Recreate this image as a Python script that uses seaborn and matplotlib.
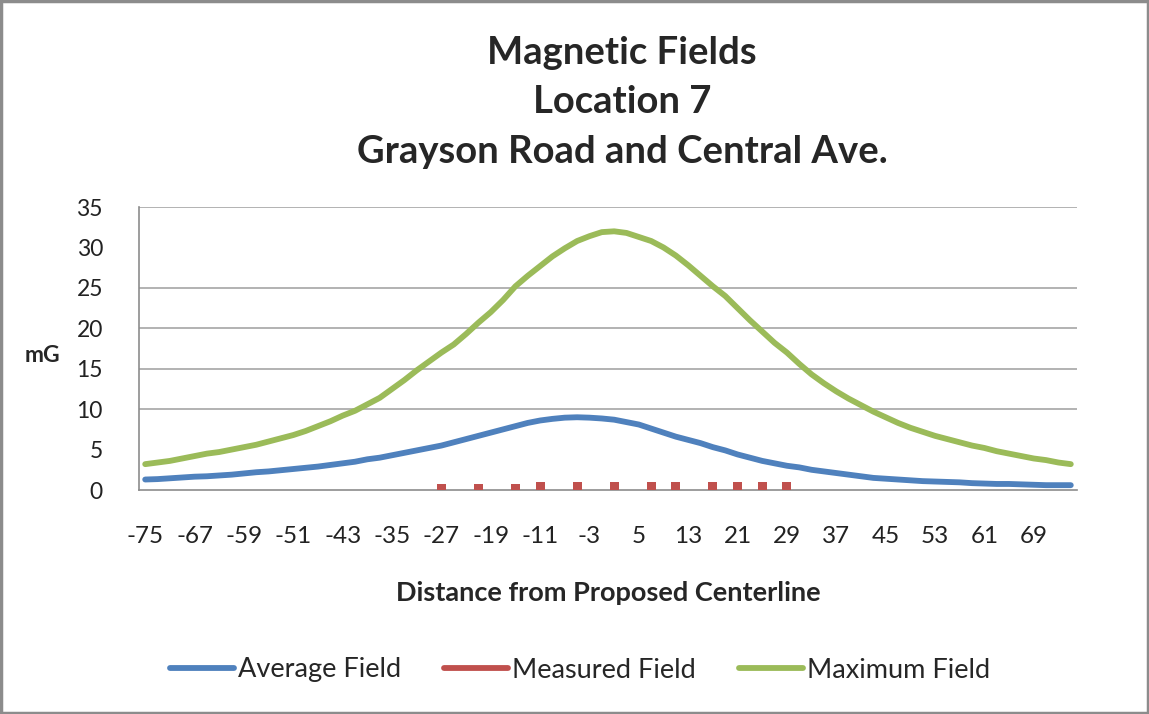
import numpy as np
import pandas as pd
import seaborn as sns
import matplotlib.pyplot as plt
from matplotlib.lines import Line2D
from matplotlib.patches import Rectangle

# distances from the centerline (one category every 2 ft)
distance = list(range(-75, 76, 2))

average_field = [1.3, 1.35, 1.45, 1.55, 1.65, 1.7, 1.8, 1.9, 2.05, 2.2,
                 2.3, 2.45, 2.6, 2.75, 2.9, 3.1, 3.3, 3.5, 3.8, 4.0,
                 4.3, 4.6, 4.9, 5.2, 5.5, 5.9, 6.3, 6.7, 7.1, 7.5,
                 7.9, 8.3, 8.6, 8.8, 8.95, 9.0, 8.95, 8.85, 8.7, 8.4,
                 8.1, 7.6, 7.1, 6.6, 6.2, 5.8, 5.3, 4.9, 4.4, 4.0,
                 3.6, 3.3, 3.0, 2.8, 2.5, 2.3, 2.1, 1.9, 1.7, 1.5,
                 1.4, 1.3, 1.2, 1.1, 1.05, 1.0, 0.95, 0.85, 0.8, 0.75,
                 0.75, 0.7, 0.65, 0.6, 0.6, 0.6]

maximum_field = [3.2, 3.4, 3.6, 3.9, 4.2, 4.5, 4.7, 5.0, 5.3, 5.6,
                 6.0, 6.4, 6.8, 7.3, 7.9, 8.5, 9.2, 9.8, 10.6, 11.4,
                 12.5, 13.6, 14.8, 15.9, 17.0, 18.0, 19.3, 20.7, 22.0, 23.5,
                 25.2, 26.5, 27.7, 28.9, 29.9, 30.8, 31.4, 31.9, 32.0, 31.8,
                 31.3, 30.8, 30.0, 29.0, 27.8, 26.5, 25.2, 24.0, 22.5, 21.0,
                 19.6, 18.2, 17.0, 15.6, 14.3, 13.2, 12.2, 11.3, 10.5, 9.7,
                 9.0, 8.3, 7.7, 7.2, 6.7, 6.3, 5.9, 5.5, 5.2, 4.8,
                 4.5, 4.2, 3.9, 3.7, 3.4, 3.2]

measured_distance = [-27, -21, -15, -11, -5, 1, 7, 11, 17, 21, 25, 29]
measured_field = [0.2, 0.2, 0.2, 0.45, 0.45, 0.45, 0.45, 0.45, 0.45, 0.45, 0.45, 0.45]

tick_labels = list(range(-75, 70, 8))
y_ticks = [0, 5, 10, 15, 20, 25, 30, 35]
grid_levels = [10, 15, 20, 25, 35]

blue = '#4F81BD'
red = '#C0504D'
green = '#9BBB59'
gray = '#8C8C8C'

df = pd.DataFrame({'distance': distance, 'Average Field': average_field,
                   'Maximum Field': maximum_field})
meas = pd.DataFrame({'distance': measured_distance, 'Measured Field': measured_field})

sns.set_theme(style='white')
plt.rcParams['font.family'] = ['Lato', 'DejaVu Sans']

fig, ax = plt.subplots(figsize=(11.49, 7.14), dpi=100)
fig.subplots_adjust(left=0.121, right=0.9373, top=0.710, bottom=0.3137)

for lvl in grid_levels:
    ax.axhline(lvl, color='#A6A6A6', lw=1.2, zorder=0)

sns.lineplot(data=df, x='distance', y='Average Field', color=blue, lw=4.2, ax=ax, zorder=3)
sns.lineplot(data=df, x='distance', y='Maximum Field', color=green, lw=4.2, ax=ax, zorder=3)
sns.scatterplot(data=meas, x='distance', y='Measured Field', color=red, marker='s',
                s=42, edgecolor='none', ax=ax, zorder=4)

ax.set_xlim(-76, 76)
ax.set_ylim(0, 35)
ax.set_yticks(y_ticks)
ax.set_yticklabels([str(v) for v in y_ticks], fontsize=16.5, color='#222222')
ax.set_xticks(tick_labels)
ax.set_xticklabels([str(v) for v in tick_labels], fontsize=17.5, color='#222222')
ax.set_xticks(np.arange(-76, 77, 2), minor=True)
ax.tick_params(axis='x', which='major', length=0, pad=26)
ax.tick_params(axis='x', which='minor', length=8, width=1.2, color=gray, direction='out')
ax.tick_params(axis='y', length=0, pad=26)
ax.set_xlabel('')
ax.set_ylabel('')

for s in ['top', 'right']:
    ax.spines[s].set_visible(False)
for s in ['left', 'bottom']:
    ax.spines[s].set_color(gray)
    ax.spines[s].set_linewidth(1.2)

fig.text(0.5413, 0.857, 'Magnetic Fields\nLocation 7\nGrayson Road and Central Ave.',
         ha='center', va='center', fontsize=27.5, fontweight='bold', linespacing=1.55)
fig.text(0.037, 1 - 355 / 714, 'mG', ha='center', va='center', fontsize=16.5, fontweight='bold')
fig.text(0.529, 1 - 593 / 714, 'Distance from Proposed Centerline', ha='center', va='center',
         fontsize=19.5, fontweight='bold')

handles = [Line2D([], [], color=blue, lw=4.2),
           Line2D([], [], color=red, lw=4.2),
           Line2D([], [], color=green, lw=4.2)]
fig.legend(handles, ['Average Field', 'Measured Field', 'Maximum Field'], loc='center',
           bbox_to_anchor=(580 / 1149, 1 - 670 / 714), ncol=3, frameon=False, fontsize=19.5,
           handlelength=2.35, handletextpad=0.15, columnspacing=1.6)

fig.patches.append(Rectangle((0.001, 0.001), 0.998, 0.997, transform=fig.transFigure,
                             fill=False, edgecolor='#8C8C8C', lw=2.5))

fig.savefig('out.png', dpi=100)
